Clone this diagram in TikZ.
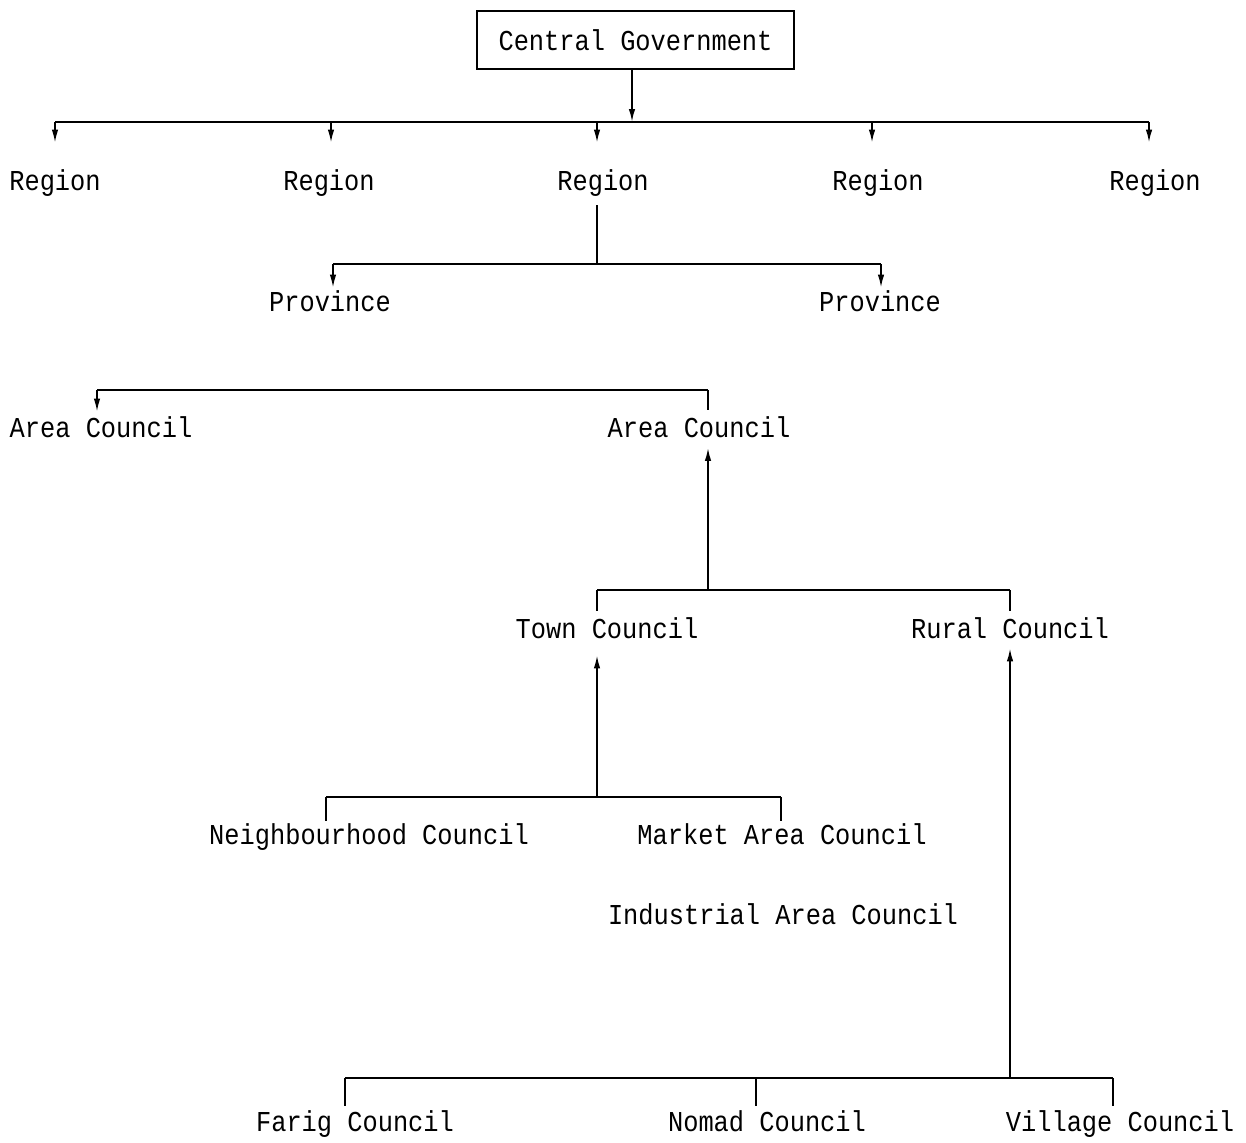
\documentclass[tikz,border=0pt]{standalone}
\usepackage{fontspec}
\setmainfont{Liberation Mono}[FakeStretch=0.88]
\usetikzlibrary{arrows.meta,positioning,calc}

\newcommand\orgfont{\fontsize{16.4pt}{18pt}\selectfont}

\begin{document}
\begin{tikzpicture}[
  x=0.02cm, y=-0.02cm,
  % ── boxed top node ──
  govbox/.style={draw, rectangle, line width=1pt, minimum width=6.34cm,
                 minimum height=1.16cm, inner sep=0pt, font=\orgfont},
  % ── plain text labels (north = cap top, south = baseline) ──
  lbl/.style={inner sep=0pt, text height=0.38cm, text depth=0pt, font=\orgfont},
  % ── connectors ──
  arr/.style={-{Latex[length=2.6mm,width=1.3mm]}, line width=1pt},
  wire/.style={line width=1pt},
]

%% ─── level helpers ─────────────────────────────────────────────
\def\yreg{181}    % Region row
\def\yprov{302}   % Province row
\def\yarea{428}   % Area Council row
\def\ytown{629}   % Town / Rural row
\def\ynbh{835}    % Neighbourhood / Market row
\def\yfar{1122}   % Farig / Nomad / Village row

\useasboundingbox (0,0) rectangle (1246,1142);

%% ─── 1. Central Government → Regions ──────────────────────────
\node[govbox] (gov) at (635.5,40) {Central Government};
\coordinate (regL) at (55,122);
\coordinate (regR) at (1149,122);
\coordinate (govDrop) at (632,122);
\draw[wire] (regL) -- (regR);
\draw[arr]  (gov.south -| govDrop) -- (govDrop);

% label x / arrow x
\foreach \x/\ax [count=\i] in {55/55, 329/331, 603/597, 878/872, 1155/1149}{
  \node[lbl] (reg\i) at (\x,\yreg) {Region};
  \coordinate (regDrop\i) at (\ax,122);
  \draw[arr, shorten >=0.57cm] (regDrop\i) -- (regDrop\i |- reg\i.north);
}

%% ─── 2. Region → Provinces ────────────────────────────────────
\node[lbl] (prov1) at (330,\yprov) {Province};
\node[lbl] (prov2) at (880,\yprov) {Province};
\coordinate (provBus) at (597,264);
\coordinate (provL) at (333,264);
\coordinate (provR) at (881,264);
\draw[wire, shorten <=0.29cm] (reg3.south -| provBus) -- (provBus);
\draw[wire] (provL) -- (provR);
\draw[arr, shorten >=0.09cm] (provL) -- (provL |- prov1.north);
\draw[arr, shorten >=0.09cm] (provR) -- (provR |- prov2.north);

%% ─── 3. Area Councils ─────────────────────────────────────────
\node[lbl] (area1) at (101,\yarea) {Area Council};
\node[lbl] (area2) at (699,\yarea) {Area Council};
\coordinate (areaL) at (97,390);
\coordinate (areaR) at (708,390);
\draw[wire] (areaL) -- (areaR);
\draw[arr, shorten >=0.13cm] (areaL) -- (areaL |- area1.north);
\draw[wire, shorten >=0.17cm] (areaR) -- (areaR |- area2.north);

%% ─── 4. Town / Rural → Area Council ───────────────────────────
\node[lbl] (town)  at (607,\ytown)  {Town Council};
\node[lbl] (rural) at (1010,\ytown) {Rural Council};
\coordinate (tcBus) at (597,590);
\coordinate (rcBus) at (1010,590);
\coordinate (acUp)  at (708,590);
\draw[wire] (tcBus) -- (rcBus);
\draw[arr, shorten >=0.2cm] (acUp) -- (acUp |- area2.south);
\draw[wire, shorten >=0.17cm] (tcBus) -- (tcBus |- town.north);
\draw[wire, shorten >=0.17cm] (rcBus) -- (rcBus |- rural.north);

%% ─── 5. Neighbourhood / Market → Town Council ─────────────────
\node[lbl] (nbh) at (369,\ynbh) {Neighbourhood Council};
\node[lbl] (mkt) at (782,\ynbh) {Market Area Council};
\node[lbl] (ind) at (783,915)   {Industrial Area Council};
\coordinate (nbBus) at (326,797);
\coordinate (mkBus) at (781,797);
\coordinate (tcUp)  at (597,797);
\draw[wire] (nbBus) -- (mkBus);
\draw[arr, shorten >=0.33cm] (tcUp) -- (tcUp |- town.south);
\draw[wire, shorten >=0.09cm] (nbBus) -- (nbBus |- nbh.north);
\draw[wire, shorten >=0.09cm] (mkBus) -- (mkBus |- mkt.north);

%% ─── 6. Farig / Nomad / Village → Rural Council ───────────────
\node[lbl] (farig)   at (355,\yfar)  {Farig Council};
\node[lbl] (nomad)   at (767,\yfar)  {Nomad Council};
\node[lbl] (village) at (1120,\yfar) {Village Council};
\coordinate (fcBus) at (345,1078);
\coordinate (ncBus) at (756,1078);
\coordinate (vcBus) at (1113,1078);
\coordinate (rcUp)  at (1010,1078);
\draw[wire] (fcBus) -- (vcBus);
\draw[arr, shorten >=0.19cm] (rcUp) -- (rcUp |- rural.south);
\foreach \b/\n in {fcBus/farig, ncBus/nomad, vcBus/village}{
  \draw[wire, shorten >=0.13cm] (\b) -- (\b |- \n.north);
}

\end{tikzpicture}
\end{document}
